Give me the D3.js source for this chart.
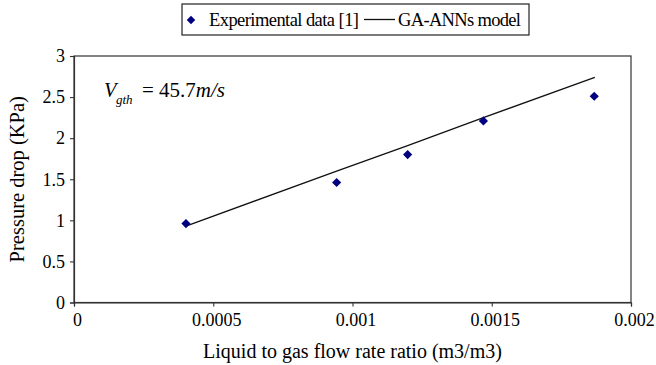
<!DOCTYPE html>
<html>
<head>
<meta charset="utf-8">
<script src="https://cdn.jsdelivr.net/npm/d3@7"></script>
<style>
  body { margin: 0; background: #fff; }
  svg { display: block; }
  svg text { font-family: 'Liberation Serif', 'Times New Roman', Times, serif; fill: #000; }
</style>
</head>
<body>
<svg id="chart" width="656" height="365"></svg>
<script>
// Data
const expX = [0.000402, 0.000943, 0.001198, 0.00147, 0.001868];
const expY = [0.96, 1.46, 1.80, 2.21, 2.51];
const modelX = [0.000402, 0.000943, 0.001198, 0.00147, 0.00187];
const modelY = [0.93, 1.60, 1.91, 2.25, 2.74];
const xTicks = [0, 0.0005, 0.001, 0.0015, 0.002];
const xTickLabels = ["0", "0.0005", "0.001", "0.0015", "0.002"];
const yTicks = [0, 0.5, 1, 1.5, 2, 2.5, 3];
const yTickLabels = ["0", "0.5", "1", "1.5", "2", "2.5", "3"];
const seriesNames = ["Experimental data [1]", "GA-ANNs model"];

const svg = d3.select("#chart");
const m = { left: 74, right: 631, top: 56, bottom: 302.5 };
const x = d3.scaleLinear().domain([0, 0.002]).range([m.left, m.right]);
const y = d3.scaleLinear().domain([0, 3]).range([m.bottom, m.top]);

svg.append("rect")
  .attr("x", m.left).attr("y", m.top)
  .attr("width", m.right - m.left).attr("height", m.bottom - m.top)
  .attr("fill", "none").attr("stroke", "#333").attr("stroke-width", 1.2);

const xAxis = svg.append("g").attr("transform", `translate(0,${m.bottom})`)
  .call(d3.axisBottom(x).tickValues(xTicks).tickSize(4).tickPadding(7)
    .tickFormat((d, i) => xTickLabels[i]));
const yAxis = svg.append("g").attr("transform", `translate(${m.left},0)`)
  .call(d3.axisLeft(y).tickValues(yTicks).tickSize(4).tickPadding(5)
    .tickFormat((d, i) => yTickLabels[i]));
[xAxis, yAxis].forEach(a => {
  a.attr("font-family", null);
  a.select(".domain").attr("stroke", "#333").attr("stroke-width", 1.2);
  a.selectAll(".tick line").attr("stroke", "#333").attr("stroke-width", 1.1);
  a.selectAll(".tick text").attr("font-size", 18).attr("fill", "#111");
});
xAxis.selectAll(".tick text").attr("dx", 3);

svg.append("text").attr("x", (m.left + m.right) / 2).attr("y", 358)
  .attr("text-anchor", "middle").attr("font-size", 20)
  .text("Liquid to gas flow rate ratio (m3/m3)");
svg.append("text")
  .attr("transform", `translate(24,${(m.top + m.bottom) / 2}) rotate(-90)`)
  .attr("text-anchor", "middle").attr("font-size", 20.5)
  .text("Pressure drop (KPa)");

const line = d3.line().x(d => x(d[0])).y(d => y(d[1]));
svg.append("path")
  .datum(modelX.map((v, i) => [v, modelY[i]]))
  .attr("d", line).attr("fill", "none").attr("stroke", "#111").attr("stroke-width", 1.3);

const diamond = d3.symbol().type(d3.symbolSquare).size(42);
svg.selectAll(".pt").data(expX.map((v, i) => [v, expY[i]])).enter()
  .append("path").attr("class", "pt")
  .attr("d", diamond)
  .attr("transform", d => `translate(${x(d[0])},${y(d[1])}) rotate(45)`)
  .attr("fill", "#000080");

// annotation
svg.append("text").attr("x", 104).attr("y", 97).attr("font-size", 20.5)
  .attr("font-style", "italic").text("V");
svg.append("text").attr("x", 116).attr("y", 104).attr("font-size", 13)
  .attr("font-style", "italic").text("gth");
const ann = svg.append("text").attr("x", 142).attr("y", 97).attr("font-size", 21);
ann.append("tspan").text("= 45.7");
ann.append("tspan").attr("font-style", "italic").text("m/s");

// legend
const lg = svg.append("g");
lg.append("rect").attr("x", 182).attr("y", 4).attr("width", 347).attr("height", 31)
  .attr("fill", "#fff").attr("stroke", "#222").attr("stroke-width", 1.2);
lg.append("path").attr("d", d3.symbol().type(d3.symbolSquare).size(36))
  .attr("transform", "translate(191,20) rotate(45)").attr("fill", "#000080");
lg.append("text").attr("x", 209).attr("y", 26).attr("font-size", 18.5)
  .attr("textLength", 150).attr("lengthAdjust", "spacing").text(seriesNames[0]);
lg.append("line").attr("x1", 364).attr("x2", 395).attr("y1", 19.5).attr("y2", 19.5)
  .attr("stroke", "#111").attr("stroke-width", 1.3);
lg.append("text").attr("x", 398).attr("y", 26).attr("font-size", 18.5)
  .attr("textLength", 123).attr("lengthAdjust", "spacing").text(seriesNames[1]);
</script>
</body>
</html>
